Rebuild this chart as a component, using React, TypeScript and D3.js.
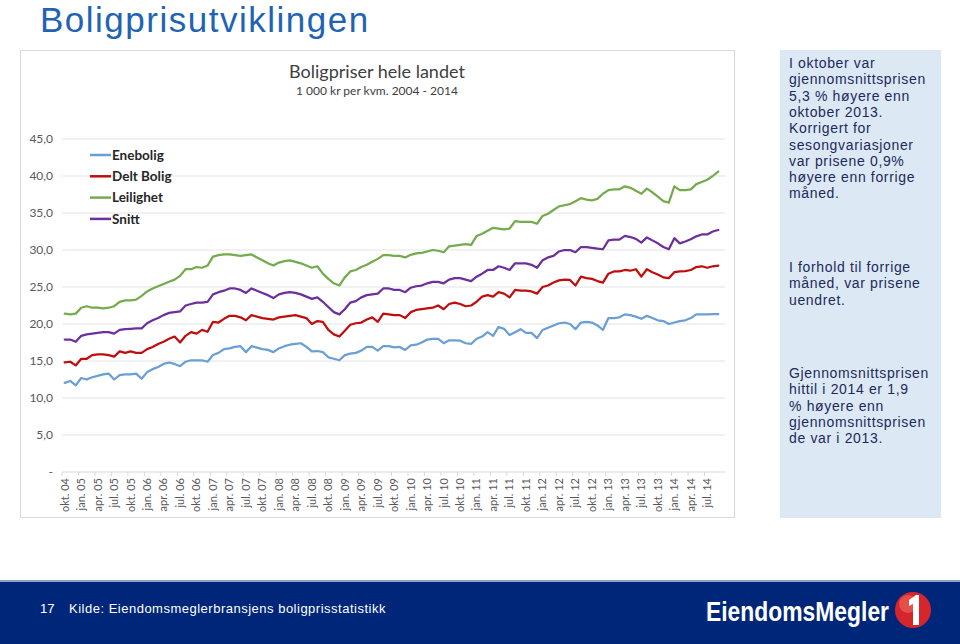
import React from "react";
import * as d3 from "d3";

const seriesNames = ["Enebolig", "Delt Bolig", "Leilighet", "Snitt"];
const seriesColors = ["#6a9fd4", "#c00d0d", "#74ab4c", "#6d2f9c"];

const enebolig = [
  12.05, 12.3, 11.7, 12.7, 12.5, 12.8, 13.0, 13.2, 13.3, 12.5,
  13.1, 13.2, 13.2, 13.3, 12.6, 13.5, 13.9, 14.2, 14.6, 14.8,
  14.6, 14.3, 14.9, 15.1, 15.1, 15.1, 14.9, 15.8, 16.1, 16.6,
  16.7, 16.9, 17.0, 16.2, 17.0, 16.8, 16.6, 16.5, 16.2, 16.7,
  17.0, 17.2, 17.3, 17.4, 16.9, 16.3, 16.35, 16.2, 15.5, 15.3,
  15.1, 15.8, 16.0, 16.1, 16.4, 16.9, 16.9, 16.4, 17.0, 17.0,
  16.85, 16.9, 16.5, 17.1, 17.2, 17.5, 17.9, 18.0, 18.0, 17.4,
  17.8, 17.8, 17.75, 17.4, 17.3, 18.0, 18.3, 18.9, 18.4, 19.6,
  19.35, 18.5, 18.9, 19.3, 18.8, 18.8, 18.1, 19.2, 19.5, 19.8,
  20.1, 20.2, 20.0, 19.3, 20.2, 20.3, 20.2, 19.8, 19.2, 20.8,
  20.8, 20.9, 21.3, 21.2, 21.0, 20.7, 21.1, 20.8, 20.5, 20.4,
  20.0, 20.2, 20.4, 20.5, 20.8, 21.3, 21.3, 21.3, 21.35, 21.35,
];

const deltBolig = [
  14.8, 14.9, 14.4, 15.3, 15.3, 15.8, 15.9, 15.9, 15.8, 15.6,
  16.3, 16.1, 16.3, 16.1, 16.1, 16.6, 16.9, 17.3, 17.6, 18.0,
  18.3, 17.5, 18.4, 18.9, 18.7, 19.2, 18.95, 20.3, 20.2, 20.7,
  21.1, 21.1, 20.9, 20.5, 21.2, 21.0, 20.8, 20.7, 20.6, 20.9,
  21.0, 21.1, 21.2, 21.0, 20.8, 20.0, 20.4, 20.3, 19.2, 18.6,
  18.3, 19.1, 19.9, 20.1, 20.2, 20.6, 20.9, 20.3, 21.4, 21.3,
  21.2, 21.2, 20.8, 21.6, 21.9, 22.0, 22.1, 22.2, 22.5, 22.0,
  22.7, 22.9, 22.7, 22.4, 22.5, 23.0, 23.7, 23.9, 23.7, 24.3,
  24.1, 23.6, 24.6, 24.5, 24.5, 24.4, 24.1, 25.0, 25.2, 25.6,
  25.9, 26.0, 25.95, 25.2, 26.4, 26.2, 26.1, 25.8, 25.6, 26.8,
  27.1, 27.1, 27.3, 27.2, 27.4, 26.4, 27.4, 27.0, 26.7, 26.3,
  26.2, 27.0, 27.1, 27.15, 27.3, 27.7, 27.8, 27.6, 27.8, 27.9,
];

const leilighet = [
  21.4, 21.3, 21.4, 22.2, 22.4, 22.2, 22.2, 22.1, 22.2, 22.4,
  23.0, 23.2, 23.2, 23.3, 23.8, 24.4, 24.8, 25.1, 25.4, 25.7,
  26.0, 26.5, 27.4, 27.4, 27.7, 27.6, 27.9, 29.1, 29.3, 29.4,
  29.4, 29.3, 29.2, 29.3, 29.4, 29.0, 28.6, 28.2, 27.9, 28.3,
  28.5, 28.6, 28.4, 28.2, 27.9, 27.6, 27.8, 26.8, 26.1, 25.5,
  25.2, 26.3, 27.1, 27.3, 27.7, 28.0, 28.4, 28.8, 29.3, 29.3,
  29.2, 29.2, 29.0, 29.35, 29.55, 29.6, 29.8, 30.0, 29.9, 29.7,
  30.5, 30.6, 30.7, 30.8, 30.7, 31.9, 32.2, 32.6, 33.0, 32.9,
  32.8, 32.9, 33.9, 33.8, 33.8, 33.8, 33.55, 34.6, 34.9, 35.4,
  35.9, 36.05, 36.2, 36.6, 37.0, 36.8, 36.7, 36.9, 37.6, 38.1,
  38.2, 38.2, 38.6, 38.4, 38.0, 37.6, 38.3, 37.8, 37.2, 36.6,
  36.4, 38.6, 38.1, 38.1, 38.2, 38.9, 39.2, 39.5, 40.0, 40.6,
];

const snitt = [
  17.9, 17.9, 17.6, 18.4, 18.6, 18.7, 18.8, 18.9, 18.9, 18.7,
  19.2, 19.3, 19.35, 19.4, 19.4, 20.1, 20.5, 20.8, 21.2, 21.5,
  21.6, 21.7, 22.5, 22.7, 22.9, 22.9, 23.0, 24.0, 24.3, 24.5,
  24.8, 24.8, 24.6, 24.2, 24.8, 24.5, 24.2, 23.9, 23.5, 24.0,
  24.2, 24.3, 24.2, 24.0, 23.7, 23.4, 23.6, 23.0, 22.3, 21.6,
  21.3, 22.0, 22.9, 23.1, 23.6, 23.9, 24.0, 24.1, 24.8, 24.8,
  24.6, 24.6, 24.3, 24.9, 25.1, 25.2, 25.5, 25.7, 25.7, 25.5,
  26.0, 26.2, 26.2, 26.0, 25.8, 26.4, 26.8, 27.3, 27.3, 27.8,
  27.6, 27.3, 28.2, 28.2, 28.2, 28.0, 27.6, 28.6, 29.0, 29.2,
  29.8, 30.0, 30.0, 29.7, 30.4, 30.4, 30.3, 30.2, 30.1, 31.3,
  31.4, 31.4, 31.9, 31.75, 31.5, 31.0, 31.7, 31.3, 30.9, 30.4,
  30.1, 31.6, 30.9, 31.15, 31.45, 31.85, 32.1, 32.1, 32.5, 32.7,
];

const quarterLabels = [
  "okt. 04", "jan. 05", "apr. 05", "jul. 05", "okt. 05", "jan. 06", "apr. 06", "jul. 06",
  "okt. 06", "jan. 07", "apr. 07", "jul. 07", "okt. 07", "jan. 08", "apr. 08", "jul. 08",
  "okt. 08", "jan. 09", "apr. 09", "jul. 09", "okt. 09", "jan. 10", "apr. 10", "jul. 10",
  "okt. 10", "jan. 11", "apr. 11", "jul. 11", "okt. 11", "jan. 12", "apr. 12", "jul. 12",
  "okt. 12", "jan. 13", "apr. 13", "jul. 13", "okt. 13", "jan. 14", "apr. 14", "jul. 14",
];

const yTicks = [0, 5, 10, 15, 20, 25, 30, 35, 40, 45];

const panelText1 = [
  "I oktober var", "gjennomsnittsprisen", "5,3 % høyere enn", "oktober 2013.",
  "Korrigert for", "sesongvariasjoner", "var prisene 0,9%", "høyere enn forrige", "måned.",
];
const panelText2 = ["I forhold til forrige", "måned, var prisene", "uendret."];
const panelText3 = [
  "Gjennomsnittsprisen", "hittil i 2014 er 1,9", "% høyere enn", "gjennomsnittsprisen", "de var i 2013.",
];

const allSeries = [enebolig, deltBolig, leilighet, snitt];

export default function App() {
  const n = enebolig.length;
  const x = d3.scaleBand<number>().domain(d3.range(n)).range([62, 721]);
  const cx = (i: number) => (x(i) as number) + x.bandwidth() / 2;
  const y = d3.scaleLinear().domain([0, 45]).range([472, 139]);
  const line = d3
    .line<number>()
    .x((_, i) => cx(i))
    .y((d) => y(d));

  const chartFont = "Lato, 'Open Sans', sans-serif";
  const textFont = "'Liberation Sans', Arial, sans-serif";
  const fmt = (v: number) => (v === 0 ? "-" : d3.format(".1f")(v).replace(".", ","));
  const panelStyle = { fontFamily: textFont, fontSize: 14, letterSpacing: 0.65, fill: "#1d2a5c" };

  return (
    <div style={{ position: "absolute", left: 0, top: 0 }}>
      <svg width={960} height={644} style={{ display: "block", background: "#ffffff" }}>
        <text x={40} y={32} fontFamily={textFont} fontSize={35} letterSpacing={1.5} fill="#1f63b3">
          Boligprisutviklingen
        </text>

        {/* chart panel */}
        <rect x={20.5} y={50.5} width={714} height={467} fill="#ffffff" stroke="#d9d9d9" />
        <text x={377} y={78} textAnchor="middle" fontFamily={chartFont} fontSize={18} fill="#404040">
          Boligpriser hele landet
        </text>
        <text x={377} y={95} textAnchor="middle" fontFamily={chartFont} fontSize={12} fill="#404040">
          1 000 kr per kvm. 2004 - 2014
        </text>

        {yTicks.map((t) => (
          <g key={t}>
            {t > 0 && (
              <line x1={62} x2={725} y1={y(t)} y2={y(t)} stroke="#e3e3e3" strokeWidth={1} />
            )}
            <text
              x={53}
              y={y(t)}
              dy="0.35em"
              textAnchor="end"
              fontFamily={chartFont}
              fontSize={12}
              fill="#595959"
            >
              {fmt(t)}
            </text>
          </g>
        ))}
        <line x1={62} x2={725} y1={y(0)} y2={y(0)} stroke="#d9d9d9" strokeWidth={1} />
        {quarterLabels.map((lab, k) => {
          const i = k * 3;
          const bx = x(i) as number;
          return (
            <g key={lab}>
              <line x1={bx} x2={bx} y1={y(0)} y2={y(0) + 4} stroke="#d9d9d9" />
              <text
                transform={`translate(${cx(i)},${y(0) + 6}) rotate(-90)`}
                dy="0.35em"
                textAnchor="end"
                fontFamily={chartFont}
                fontSize={11}
                fill="#595959"
              >
                {lab}
              </text>
            </g>
          );
        })}

        {allSeries.map((s, k) => (
          <path
            key={seriesNames[k]}
            d={line(s) || ""}
            fill="none"
            stroke={seriesColors[k]}
            strokeWidth={2.25}
            strokeLinejoin="round"
            strokeLinecap="round"
          />
        ))}

        {seriesNames.map((name, k) => {
          const ly = 155 + k * 21.3;
          return (
            <g key={name}>
              <line x1={90} x2={111} y1={ly} y2={ly} stroke={seriesColors[k]} strokeWidth={2.5} />
              <text x={112} y={ly} dy="0.36em" fontFamily={chartFont} fontSize={13.5} fontWeight={700} fill="#262626">
                {name}
              </text>
            </g>
          );
        })}

        {/* right info panel */}
        <rect x={780} y={50} width={161} height={468} fill="#dce8f4" />
        {panelText1.map((t, i) => (
          <text key={"a" + i} x={789} y={68 + i * 16.3} style={panelStyle}>
            {t}
          </text>
        ))}
        {panelText2.map((t, i) => (
          <text key={"b" + i} x={789} y={272 + i * 16.3} style={panelStyle}>
            {t}
          </text>
        ))}
        {panelText3.map((t, i) => (
          <text key={"c" + i} x={789} y={378 + i * 16.3} style={panelStyle}>
            {t}
          </text>
        ))}

        {/* footer */}
        <rect x={0} y={580} width={960} height={2} fill="#8aa0c8" />
        <rect x={0} y={582} width={960} height={62} fill="#002679" />
        <text x={40} y={613} fontFamily={textFont} fontSize={13} fill="#ffffff">
          17
        </text>
        <text x={69} y={613} fontFamily={textFont} fontSize={13} letterSpacing={0.5} fill="#ffffff">
          Kilde: Eiendomsmeglerbransjens boligprisstatistikk
        </text>
        <text
          x={706}
          y={621}
          fontFamily={textFont}
          fontSize={28}
          fontWeight={700}
          fill="#ffffff"
          textLength={183}
          lengthAdjust="spacingAndGlyphs"
        >
          EiendomsMegler
        </text>
        <circle cx={913} cy={610} r={18} fill="#d7262b" />
        <circle cx={908} cy={604} r={9} fill="#ef6a5e" opacity={0.6} />
        <path
          d="M 909 600 L 916 595 L 919 595 L 919 625 L 913 625 L 913 604 L 909 606 Z"
          fill="#ffffff"
        />
      </svg>
    </div>
  );
}
